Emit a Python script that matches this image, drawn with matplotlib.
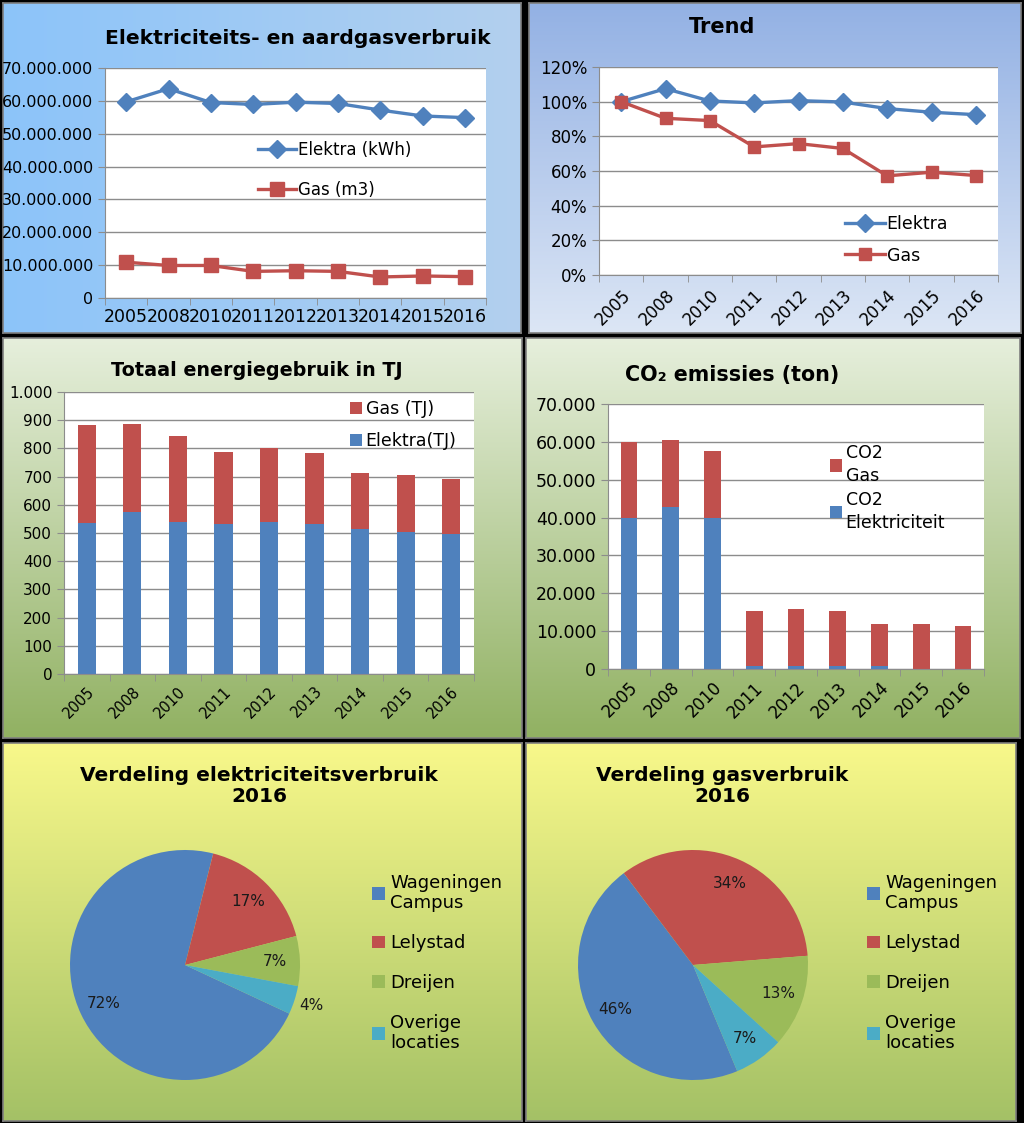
import matplotlib
matplotlib.use("Agg")
import matplotlib.pyplot as plt
import matplotlib.colors as mcolors
from matplotlib.ticker import FuncFormatter
import numpy as np

W, H = 1024, 1123

years = ["2005", "2008", "2010", "2011", "2012", "2013", "2014", "2015", "2016"]

# verbruik (kWh / m3)
elektra_kwh = [59.7e6, 63.7e6, 59.5e6, 58.9e6, 59.6e6, 59.2e6, 57.2e6, 55.4e6, 54.9e6]
gas_m3 = [10.9e6, 9.9e6, 9.9e6, 8.1e6, 8.3e6, 8.1e6, 6.4e6, 6.7e6, 6.5e6]

# trend (%)
trend_elektra = [100, 107.5, 100.4, 99.3, 100.6, 99.8, 96.0, 93.9, 92.5]
trend_gas = [100, 90.4, 89.1, 73.9, 75.8, 73.0, 57.2, 59.3, 57.4]

# energie in TJ
elektra_tj = [536, 573, 538, 531, 538, 533, 514, 502, 496]
gas_tj = [346, 313, 306, 256, 262, 251, 197, 202, 195]

# CO2 (ton)
co2_elektra = [40000, 42700, 40000, 900, 900, 900, 900, 0, 0]
co2_gas = [19900, 17900, 17500, 14400, 15000, 14400, 11100, 11800, 11300]

# verdeling 2016
locaties = ["Wageningen\nCampus", "Lelystad", "Dreijen", "Overige\nlocaties"]
verdeling_elektra = [72, 17, 7, 4]
verdeling_gas = [46, 34, 13, 7]

BLUE = "#4F81BD"
RED = "#C0504D"
GREEN = "#9BBB59"
CYAN = "#4BACC6"
GRID = "#8C8C8C"

fig = plt.figure(figsize=(W / 100, H / 100), dpi=100)
fig.patch.set_facecolor("black")


def rect(x0, y0, x1, y1):
    return [x0 / W, 1 - y1 / H, (x1 - x0) / W, (y1 - y0) / H]


def panel(x0, y0, x1, y1, c1, c2, horizontal=False):
    ax = fig.add_axes(rect(x0, y0, x1, y1), zorder=0)
    a = np.array(mcolors.to_rgb(c1))
    b = np.array(mcolors.to_rgb(c2))
    t = np.linspace(0, 1, 256)
    if horizontal:
        img = (a[None, None, :] * (1 - t)[None, :, None] + b[None, None, :] * t[None, :, None])
        img = np.repeat(img, 2, axis=0)
    else:
        img = (a[None, None, :] * (1 - t)[:, None, None] + b[None, None, :] * t[:, None, None])
        img = np.repeat(img, 2, axis=1)
    ax.imshow(img, aspect="auto", extent=[0, 1, 0, 1], interpolation="bilinear")
    ax.set_xticks([])
    ax.set_yticks([])
    for s in ax.spines.values():
        s.set_color("#7F7F7F")
        s.set_linewidth(1.2)
    return ax


def plot_axes(x0, y0, x1, y1):
    ax = fig.add_axes(rect(x0, y0, x1, y1), zorder=2)
    ax.set_facecolor("white")
    ax.spines["top"].set_visible(False)
    ax.spines["right"].set_visible(False)
    ax.spines["left"].set_color(GRID)
    ax.spines["bottom"].set_color(GRID)
    ax.yaxis.grid(True, color=GRID, linewidth=1)
    ax.set_axisbelow(True)
    n = len(years)
    ax.set_xlim(-0.5, n - 0.5)
    ax.set_xticks(range(n))
    ax.set_xticks(np.arange(-0.5, n), minor=True)
    ax.tick_params(axis="x", which="major", length=0)
    ax.tick_params(axis="x", which="minor", length=5, color=GRID)
    ax.tick_params(axis="y", length=5, color=GRID)
    return ax


def dots(v, pos):
    return f"{int(round(v)):,}".replace(",", ".")


# panel backgrounds
panel(3, 3, 521, 333, "#8CC4FA", "#B3D0EE", horizontal=True)
panel(529, 3, 1021, 333, "#93B1E4", "#DCE6F5")
panel(3, 338, 522, 738, "#E6EFDC", "#91B162")
panel(526, 338, 1020, 738, "#E6EFDC", "#91B162")
panel(3, 743, 522, 1121, "#F8F88A", "#A4C166")
panel(526, 743, 1016, 1121, "#F8F88A", "#A4C166")

x = np.arange(len(years))

# 1: elektriciteits- en aardgasverbruik
ax1 = plot_axes(105, 68, 486, 298)
ax1.plot(x, elektra_kwh, color=BLUE, lw=2.4, marker="D", ms=9, label="Elektra (kWh)")
ax1.plot(x, gas_m3, color=RED, lw=2.4, marker="s", ms=10, label="Gas (m3)")
ax1.set_ylim(0, 70e6)
ax1.set_yticks(np.arange(0, 70e6 + 1, 10e6))
ax1.yaxis.set_major_formatter(FuncFormatter(dots))
ax1.set_xticklabels(years, fontsize=12.5)
ax1.tick_params(axis="y", labelsize=11.5)
ax1.tick_params(axis="x", pad=7)
ax1.legend(loc="center left", bbox_to_anchor=(258 / W, 1 - 170 / H), bbox_transform=fig.transFigure,
           frameon=False, fontsize=12, handlelength=2.3, handletextpad=0.1, labelspacing=1.3,
           borderpad=0, borderaxespad=0)
fig.text(298 / W, 1 - 38 / H, "Elektriciteits- en aardgasverbruik", ha="center", va="center",
         fontsize=14.6, fontweight="bold")

# 2: trend
ax2 = plot_axes(599, 67, 998, 275)
ax2.plot(x, trend_elektra, color=BLUE, lw=2.4, marker="D", ms=9, label="Elektra")
ax2.plot(x, trend_gas, color=RED, lw=2.4, marker="s", ms=9, label="Gas")
ax2.set_ylim(0, 120)
ax2.set_yticks(range(0, 121, 20))
ax2.yaxis.set_major_formatter(FuncFormatter(lambda v, p: f"{int(v)}%"))
ax2.set_xticklabels(years, fontsize=12, rotation=45, ha="right", rotation_mode="anchor")
ax2.tick_params(axis="y", labelsize=12)
ax2.tick_params(axis="x", pad=8)
ax2.legend(loc="center left", bbox_to_anchor=(845 / W, 1 - 240 / H), bbox_transform=fig.transFigure,
           frameon=False, fontsize=12.5, handlelength=2.3, handletextpad=0.1, labelspacing=0.75,
           borderpad=0, borderaxespad=0)
fig.text(722 / W, 1 - 27 / H, "Trend", ha="center", va="center", fontsize=15, fontweight="bold")

# 3: totaal energiegebruik
ax3 = plot_axes(64, 392, 474, 674)
b_el = ax3.bar(x, elektra_tj, width=0.4, color=BLUE, label="Elektra(TJ)")
b_gas = ax3.bar(x, gas_tj, width=0.4, bottom=elektra_tj, color=RED, label="Gas (TJ)")
ax3.set_ylim(0, 1000)
ax3.set_yticks(range(0, 1001, 100))
ax3.yaxis.set_major_formatter(FuncFormatter(dots))
ax3.set_xticklabels(years, fontsize=10.5, rotation=45, ha="right", rotation_mode="anchor")
ax3.tick_params(axis="y", labelsize=11)
ax3.tick_params(axis="x", pad=7)
ax3.legend([b_gas, b_el], ["Gas (TJ)", "Elektra(TJ)"], loc="center left",
           bbox_to_anchor=(350 / W, 1 - 425 / H), bbox_transform=fig.transFigure,
           frameon=False, fontsize=12.5, handlelength=0.7, handleheight=0.7, handletextpad=0.2,
           labelspacing=0.8, borderpad=0, borderaxespad=0)
fig.text(257 / W, 1 - 370 / H, "Totaal energiegebruik in TJ", ha="center", va="center",
         fontsize=13.8, fontweight="bold")

# 4: CO2 emissies
ax4 = plot_axes(608, 404, 984, 669)
c_el = ax4.bar(x, co2_elektra, width=0.4, color=BLUE)
c_gas = ax4.bar(x, co2_gas, width=0.4, bottom=co2_elektra, color=RED)
ax4.set_ylim(0, 70000)
ax4.set_yticks(range(0, 70001, 10000))
ax4.yaxis.set_major_formatter(FuncFormatter(dots))
ax4.set_xticklabels(years, fontsize=12, rotation=45, ha="right", rotation_mode="anchor")
ax4.tick_params(axis="y", labelsize=12.5)
ax4.tick_params(axis="x", pad=7)
ax4.legend([c_gas, c_el], ["CO2\nGas", "CO2\nElektriciteit"], loc="center left",
           bbox_to_anchor=(830 / W, 1 - 488 / H), bbox_transform=fig.transFigure,
           frameon=False, fontsize=12.5, handlelength=0.7, handleheight=0.7, handletextpad=0.2,
           labelspacing=0.35, borderpad=0, borderaxespad=0)
for t in ax4.get_legend().get_texts():
    t.set_linespacing(1.35)
fig.text(732 / W, 1 - 375 / H, "CO₂ emissies (ton)", ha="center", va="center",
         fontsize=14.9, fontweight="bold")


# 5 + 6: taarten
def pie_panel(cx, cy, r, values, start, title, tx, legend_x, outside=()):
    ax = fig.add_axes(rect(cx - r, cy - r, cx + r, cy + r), zorder=2)
    wedges, _ = ax.pie(values, colors=[BLUE, RED, GREEN, CYAN], startangle=start,
                       counterclock=False, radius=1, wedgeprops=dict(linewidth=0))
    ax.set_xlim(-1, 1)
    ax.set_ylim(-1, 1)
    for i, w in enumerate(wedges):
        mid = np.deg2rad((w.theta1 + w.theta2) / 2)
        d = 1.15 if i in outside else 0.78
        ax.text(d * np.cos(mid), d * np.sin(mid), f"{values[i]}%", ha="center", va="center",
                fontsize=11, color="#1a1a1a")
    ax.legend(wedges, locaties, loc="center left", bbox_to_anchor=(legend_x / W, 1 - 963 / H),
              bbox_transform=fig.transFigure, frameon=False, fontsize=13, handlelength=0.7,
              handleheight=0.7, handletextpad=0.3, labelspacing=1.2, borderpad=0,
              borderaxespad=0)
    fig.text(tx / W, 1 - 786 / H, title, ha="center", va="center", fontsize=14.5,
             fontweight="bold", linespacing=1.1)


pie_panel(185, 965, 115, verdeling_elektra, -25, "Verdeling elektriciteitsverbruik\n2016", 259, 372,
          outside=(3,))
pie_panel(693, 965, 115, verdeling_gas, 292.6, "Verdeling gasverbruik\n2016", 722, 867)

fig.savefig("out.png", dpi=100, facecolor="black")
